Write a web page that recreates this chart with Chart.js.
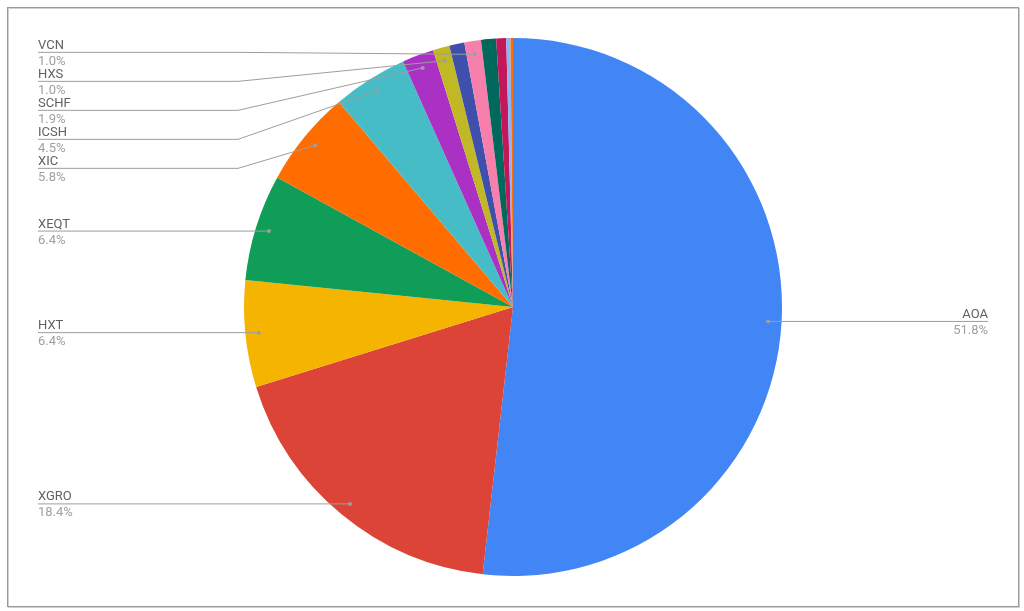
<!DOCTYPE html>
<html>
<head>
<meta charset="utf-8">
<script src="https://cdn.jsdelivr.net/npm/chart.js@4"></script>
<style>
  body { margin: 0; background: #fff; }
  canvas { display: block; }
</style>
</head>
<body>
<canvas id="holdingsChart" width="1024" height="611"></canvas>
<script>
// Slice data, clockwise from 12 o'clock
const tickers = ['AOA', 'XGRO', 'HXT', 'XEQT', 'XIC', 'ICSH', 'SCHF', 'HXS', 'Other 1', 'VCN', 'Other 2', 'Other 3', 'Other 4', 'Other 5'];
const weights = [51.8, 18.4, 6.4, 6.4, 5.8, 4.5, 1.9, 1.0, 0.9, 1.0, 0.9, 0.6, 0.25, 0.15];
const showLabel = [true, true, true, true, true, true, true, true, false, true, false, false, false, false];
const sliceColors = ['#4285f4', '#db4437', '#f4b400', '#0f9d58', '#ff6d01', '#46bdc6', '#ab30c4', '#c0b825',
  '#3e4fac', '#f77fab', '#00695c', '#c2185b', '#8ab4f8', '#ff6d00'];

// Draws the outside labels with leader lines, Google Sheets style
const outsideLabels = {
  id: 'outsideLabels',
  afterDraw(chart) {
    const ctx = chart.ctx;
    const meta = chart.getDatasetMeta(0);
    const total = weights.reduce((a, b) => a + b, 0);

    let left = [];
    let right = [];
    meta.data.forEach((arc, i) => {
      if (!showLabel[i]) return;
      const mid = (arc.startAngle + arc.endAngle) / 2;
      const r = arc.outerRadius * 0.95;
      const item = {
        i: i,
        x: arc.x + Math.cos(mid) * r,
        y: arc.y + Math.sin(mid) * r
      };
      if (item.x < arc.x) left.push(item); else right.push(item);
    });

    // stack the left labels so they don't overlap
    left.sort((a, b) => a.y - b.y);
    let prev = -Infinity;
    left.forEach(item => {
      item.ly = Math.max(item.y, prev + 29, 52);
      prev = item.ly;
    });
    // the top stack sits a touch higher than its dots
    left.forEach(item => { if (item.ly > item.y + 0.5 || item.ly < 60) item.ly -= 2; });
    right.forEach(item => { item.ly = item.y; });

    ctx.save();
    ctx.lineWidth = 1;
    ctx.font = '13px Roboto';

    left.forEach(item => {
      ctx.beginPath();
      ctx.moveTo(38, item.ly);
      ctx.lineTo(238, item.ly);
      ctx.lineTo(item.x, item.y);
      ctx.strokeStyle = '#9e9e9e';
      ctx.stroke();
      ctx.beginPath();
      ctx.arc(item.x, item.y, 2, 0, Math.PI * 2);
      ctx.fillStyle = '#9e9e9e';
      ctx.fill();

      ctx.textAlign = 'left';
      ctx.fillStyle = '#616161';
      ctx.fillText(tickers[item.i], 38, item.ly - 3.5);
      ctx.fillStyle = '#a0a0a0';
      ctx.fillText((weights[item.i] / total * 100).toFixed(1) + '%', 38, item.ly + 12.5);
    });

    right.forEach(item => {
      ctx.beginPath();
      ctx.moveTo(item.x, item.y);
      ctx.lineTo(988, item.ly);
      ctx.strokeStyle = '#9e9e9e';
      ctx.stroke();
      ctx.beginPath();
      ctx.arc(item.x, item.y, 2, 0, Math.PI * 2);
      ctx.fillStyle = '#9e9e9e';
      ctx.fill();

      ctx.textAlign = 'right';
      ctx.fillStyle = '#616161';
      ctx.fillText(tickers[item.i], 988, item.ly - 3.5);
      ctx.fillStyle = '#a0a0a0';
      ctx.fillText((weights[item.i] / total * 100).toFixed(1) + '%', 988, item.ly + 12.5);
    });

    // frame around the chart
    ctx.strokeStyle = '#d0d0d0';
    ctx.strokeRect(8.5, 8.5, 1011, 599);
    ctx.strokeStyle = '#9a9a9a';
    ctx.strokeRect(7.5, 7.5, 1011, 599);
    ctx.restore();
  }
};

const ctx = document.getElementById('holdingsChart').getContext('2d');
new Chart(ctx, {
  type: 'pie',
  data: {
    labels: tickers,
    datasets: [{
      data: weights,
      backgroundColor: sliceColors,
      borderWidth: 0
    }]
  },
  options: {
    responsive: false,
    animation: false,
    layout: {
      padding: { top: 38, bottom: 35, left: 244, right: 242 }
    },
    plugins: {
      legend: { display: false },
      tooltip: { enabled: false }
    }
  },
  plugins: [outsideLabels]
});
</script>
</body>
</html>
